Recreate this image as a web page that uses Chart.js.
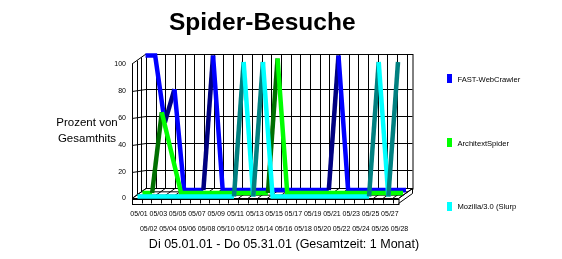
<!DOCTYPE html>
<html>
<head>
<meta charset="utf-8">
<script src="https://cdn.jsdelivr.net/npm/chart.js@4.4.0/dist/chart.umd.min.js"></script>
<style>
  html, body { margin: 0; padding: 0; background: #fff; }
  #wrap { width: 562px; height: 259px; position: relative; }
</style>
</head>
<body>
<div id="wrap"><canvas id="spiderChart"></canvas></div>
<script>
// categories (days of May 2001)
var days = ['05/01','05/02','05/03','05/04','05/05','05/06','05/07','05/08','05/09','05/10',
            '05/11','05/12','05/13','05/14','05/15','05/16','05/17','05/18','05/19','05/20',
            '05/21','05/22','05/23','05/24','05/25','05/26','05/27','05/28'];

// percent of total hits per spider
var fastWebCrawler  = [100,100,50,75,0,0,0,100,0,0, 0,0,0,0,0,0,0,0,0,0, 100,0,0,0,0,0,0,0];
var architextSpider = [0,0,60,30,0,0,0,0,0,0, 0,0,0,0,100,0,0,0,0,0, 0,0,0,0,0,0,0,0];
var slurp           = [0,0,0,0,0,0,0,0,0,0, 0,100,0,100,0,0,0,0,0,0, 0,0,0,0,0,100,0,100];

var yTicks = [0, 20, 40, 60, 80, 100];

var FONT = "'Liberation Sans', Arial, sans-serif";

// depth of the 3d box and shift of every ribbon (back -> front)
var depth = { dx: 14, dy: -10 };
var shifts = [ { dx: 13.5, dy: -8.5 }, { dx: 10.5, dy: -5.5 }, { dx: 5.5, dy: -2 } ];

function ribbon(label, data, color, dark, order) {
    return {
        label: label,
        data: data,
        borderColor: color,
        backgroundColor: color,
        borderWidth: 4.5,
        pointRadius: 0,
        tension: 0,
        clip: false,
        order: order,
        segment: {
            // rising parts show the darker face of the ribbon
            borderColor: function(c) { return c.p1.parsed.y > c.p0.parsed.y ? dark : color; }
        }
    };
}

// draws the box: back wall, left wall and floor
var boxPlugin = {
    id: 'box3d',
    beforeDatasetsDraw: function(chart) {
        var ctx = chart.ctx;
        var xs = chart.scales.x, ys = chart.scales.y;
        var x0 = xs.getPixelForValue(0);
        var xEnd = xs.getPixelForValue(days.length - 1) + 6;
        var yb = ys.getPixelForValue(0), yt = ys.getPixelForValue(100);
        var dx = depth.dx, dy = depth.dy;
        ctx.save();
        ctx.strokeStyle = '#000';
        ctx.lineWidth = 1;
        function line(a, b, c, d) {
            ctx.beginPath(); ctx.moveTo(a, b); ctx.lineTo(c, d); ctx.stroke();
        }
        // back wall
        ctx.strokeRect(x0 + dx + 0.5, yt + dy + 0.5, xEnd - x0, yb - yt);
        yTicks.forEach(function(v) {
            if (v === 0 || v === 100) return;
            var y = Math.round(ys.getPixelForValue(v) - 2) + 0.5;
            line(x0 + dx, y, xEnd + dx, y);
            line(x0, Math.round(ys.getPixelForValue(v)) + 0.5, x0 + dx, y);
        });
        for (var i = 0; i < days.length; i++) {
            var xx = Math.round(xs.getPixelForValue(i) + dx) + 0.5;
            line(xx, yt + dy, xx, yb + dy);
        }
        // left wall
        line(x0 + 0.5, yt, x0 + 0.5, yb + 5);
        line(x0, yt, x0 + dx, yt + dy);
        for (var k = 1; k < 3; k++) {
            var lx = Math.round(x0 + dx * k / 3) + 0.5;
            line(lx, yt + dy * k / 3, lx, yb + dy * k / 3);
        }
        // floor
        ctx.fillStyle = '#fff';
        ctx.beginPath();
        ctx.moveTo(x0, yb); ctx.lineTo(xEnd, yb); ctx.lineTo(xEnd + dx, yb + dy); ctx.lineTo(x0 + dx, yb + dy);
        ctx.closePath(); ctx.fill(); ctx.stroke();
        for (var j = 0; j < days.length; j++) {
            var fx = xs.getPixelForValue(j);
            line(fx, yb, fx + dx, yb + dy);
        }
        for (var m = 1; m < 3; m++) {
            line(x0 + dx * m / 3, yb + dy * m / 3, xEnd + dx * m / 3, yb + dy * m / 3);
        }
        // front edge of the floor with its cells
        ctx.strokeRect(x0 + 0.5, Math.round(yb) + 0.5, xEnd - x0, 5);
        for (var n = 1; n < days.length; n++) {
            var cx = Math.round(xs.getPixelForValue(n)) + 0.5;
            line(cx, yb, cx, yb + 5);
        }
        ctx.beginPath();
        ctx.moveTo(xEnd, yb); ctx.lineTo(xEnd + dx, yb + dy); ctx.lineTo(xEnd + dx, yb + dy + 5); ctx.lineTo(xEnd, yb + 5);
        ctx.stroke();
        ctx.restore();
    },
    beforeDatasetDraw: function(chart, args) {
        var s = shifts[args.index];
        chart.ctx.save();
        chart.ctx.translate(s.dx, s.dy);
    },
    afterDatasetDraw: function(chart) {
        chart.ctx.restore();
    },
    afterDraw: function(chart) {
        var ctx = chart.ctx;
        ctx.save();
        ctx.fillStyle = '#000';
        // axis caption
        ctx.font = '11.5px ' + FONT;
        ctx.textAlign = 'center';
        ctx.textBaseline = 'alphabetic';
        ctx.fillText('Prozent von', 87, 126);
        ctx.fillText('Gesamthits', 87, 142);
        // period line
        ctx.font = '12.5px ' + FONT;
        ctx.fillText('Di 05.01.01 - Do 05.31.01 (Gesamtzeit: 1 Monat)', 284, 248);
        // legend
        var legendY = [78.5, 142.5, 206];
        ctx.font = '7.6px ' + FONT;
        ctx.textAlign = 'left';
        ctx.textBaseline = 'middle';
        chart.data.datasets.forEach(function(ds, i) {
            ctx.fillStyle = ds.backgroundColor;
            ctx.fillRect(447, Math.round(legendY[i] - 4.5), 5, 9);
            ctx.fillStyle = '#000';
            ctx.fillText(ds.label, 457.5, legendY[i] + 1);
        });
        ctx.restore();
    }
};

var ctx = document.getElementById('spiderChart').getContext('2d');
var spiderChart = new Chart(ctx, {
    type: 'line',
    data: {
        labels: days,
        datasets: [
            ribbon('FAST-WebCrawler', fastWebCrawler, '#0000ff', '#000080', 3),
            ribbon('ArchitextSpider', architextSpider, '#00ff00', '#007000', 2),
            ribbon('Mozilla/3.0 (Slurp', slurp, '#00ffff', '#008080', 1)
        ]
    },
    options: {
        responsive: true,
        maintainAspectRatio: false,
        animation: false,
        layout: { padding: { left: 0, right: 169.5, top: 0, bottom: 0 } },
        plugins: {
            legend: { display: false },
            tooltip: { enabled: false },
            title: {
                display: true,
                text: 'Spider-Besuche',
                fullSize: false,
                color: '#000',
                font: { family: FONT, size: 24.5, weight: 'bold' },
                padding: { top: 9, bottom: 25.6 }
            }
        },
        scales: {
            x: {
                offset: false,
                grid: { display: false, drawTicks: false },
                border: { display: false },
                afterFit: function(scale) { scale.height = 60.5; },
                ticks: {
                    autoSkip: false,
                    maxRotation: 0,
                    minRotation: 0,
                    padding: 8,
                    labelOffset: 7,
                    color: '#000',
                    font: { family: FONT, size: 7, lineHeight: 15 / 7 },
                    callback: function(value, index) {
                        return index % 2 === 0 ? [days[index]] : ['', days[index]];
                    }
                }
            },
            y: {
                min: 0,
                max: 100,
                grid: { display: false, drawTicks: false },
                border: { display: false },
                afterFit: function(scale) { scale.width = 132; },
                afterBuildTicks: function(scale) {
                    scale.ticks = yTicks.map(function(v) { return { value: v }; });
                },
                ticks: {
                    padding: 6,
                    color: '#000',
                    font: { family: FONT, size: 7 }
                }
            }
        }
    },
    plugins: [boxPlugin]
});
</script>
</body>
</html>
